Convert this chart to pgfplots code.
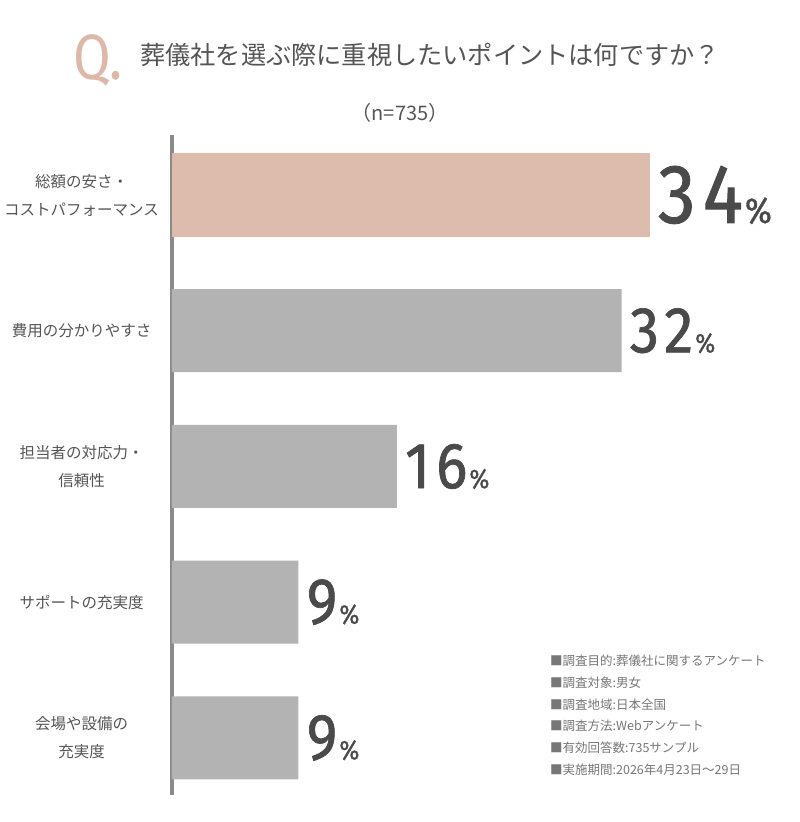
\documentclass[border=0pt]{standalone}
\usepackage{fontspec}
\setmainfont{Noto Sans CJK JP}
\newfontfamily\numfont[LetterSpace=9, FakeBold=1.0, FakeStretch=0.9]{Fira Sans}
\newfontfamily\qfont[FakeStretch=0.85]{Fira Sans}
\usepackage{pgfplots}
\pgfplotsset{compat=1.18}
\definecolor{barpink}{HTML}{DEBCAD}
\definecolor{bargray}{HTML}{B3B3B3}
\definecolor{axisgray}{HTML}{8A8A8A}
\definecolor{txt}{HTML}{555555}
\definecolor{num}{HTML}{4A4A4A}
\definecolor{qpink}{HTML}{DDB8A8}
\definecolor{note}{HTML}{777777}

\begin{document}
\begin{tikzpicture}
\useasboundingbox[fill=white] (0,0) rectangle (800pt,822pt);
\begin{axis}[
  at={(172pt,27pt)}, anchor=south west,
  scale only axis, width=562pt, height=660pt,
  xbar, bar width=83pt, bar shift=0pt,
  xmin=0, xmax=40,
  ymin=0.558, ymax=5.42, y dir=reverse,
  axis x line=none,
  axis y line*=left,
  y axis line style={draw=axisgray, line width=4pt, -},
  ytick={1,2,3,4,5},
  yticklabels={{総額の安さ・\\コストパフォーマンス},{費用の分かりやすさ},{担当者の対応力・\\信頼性},{サポートの充実度},{会場や設備の\\充実度}},
  ytick style={draw=none},
  yticklabel style={text width=172pt, align=center, inner xsep=0pt, text=txt,
    font=\fontsize{15.5}{28}\selectfont},
  clip=false,
  point meta=x,
  /pgf/number format/assume math mode=true,
  every node near coord/.append style={anchor=west, inner sep=0pt, xshift=8pt, text=num},
]
% highlighted answer
\addplot[fill=barpink, draw=none,
  nodes near coords={\numfont\fontsize{84}{84}\selectfont\pgfmathprintnumber{\pgfplotspointmeta}\hspace{2pt}\fontsize{36}{36}\selectfont\%}]
  coordinates {(34,1)};
% remaining answers
\addplot[fill=bargray, draw=none,
  nodes near coords={\numfont\fontsize{65}{65}\selectfont\pgfmathprintnumber{\pgfplotspointmeta}\hspace{2pt}\fontsize{27}{27}\selectfont\%}]
  coordinates {(32,2) (16,3) (9,4) (9,5)};
\end{axis}

% question heading
\node[anchor=base west, text=qpink, inner sep=0pt,
  font=\qfont\fontsize{64}{64}\selectfont] at (73pt,742pt) {Q.};
\node[anchor=base west, text=txt, inner sep=0pt,
  font=\fontsize{25.2}{25.2}\selectfont] at (140pt,757pt) {葬儀社を選ぶ際に重視したいポイントは何ですか？};
\node[text=txt, font=\fontsize{20}{20}\selectfont] at (400pt,709pt) {（n=735）};

% survey notes
\node[anchor=north west, align=left, text=note, inner sep=0pt,
  font=\fontsize{12.5}{21.7}\selectfont] at (550pt,167pt)
  {■調査目的:葬儀社に関するアンケート\\
   ■調査対象:男女\\
   ■調査地域:日本全国\\
   ■調査方法:Webアンケート\\
   ■有効回答数:735サンプル\\
   ■実施期間:2026年4月23日～29日};
\end{tikzpicture}
\end{document}
